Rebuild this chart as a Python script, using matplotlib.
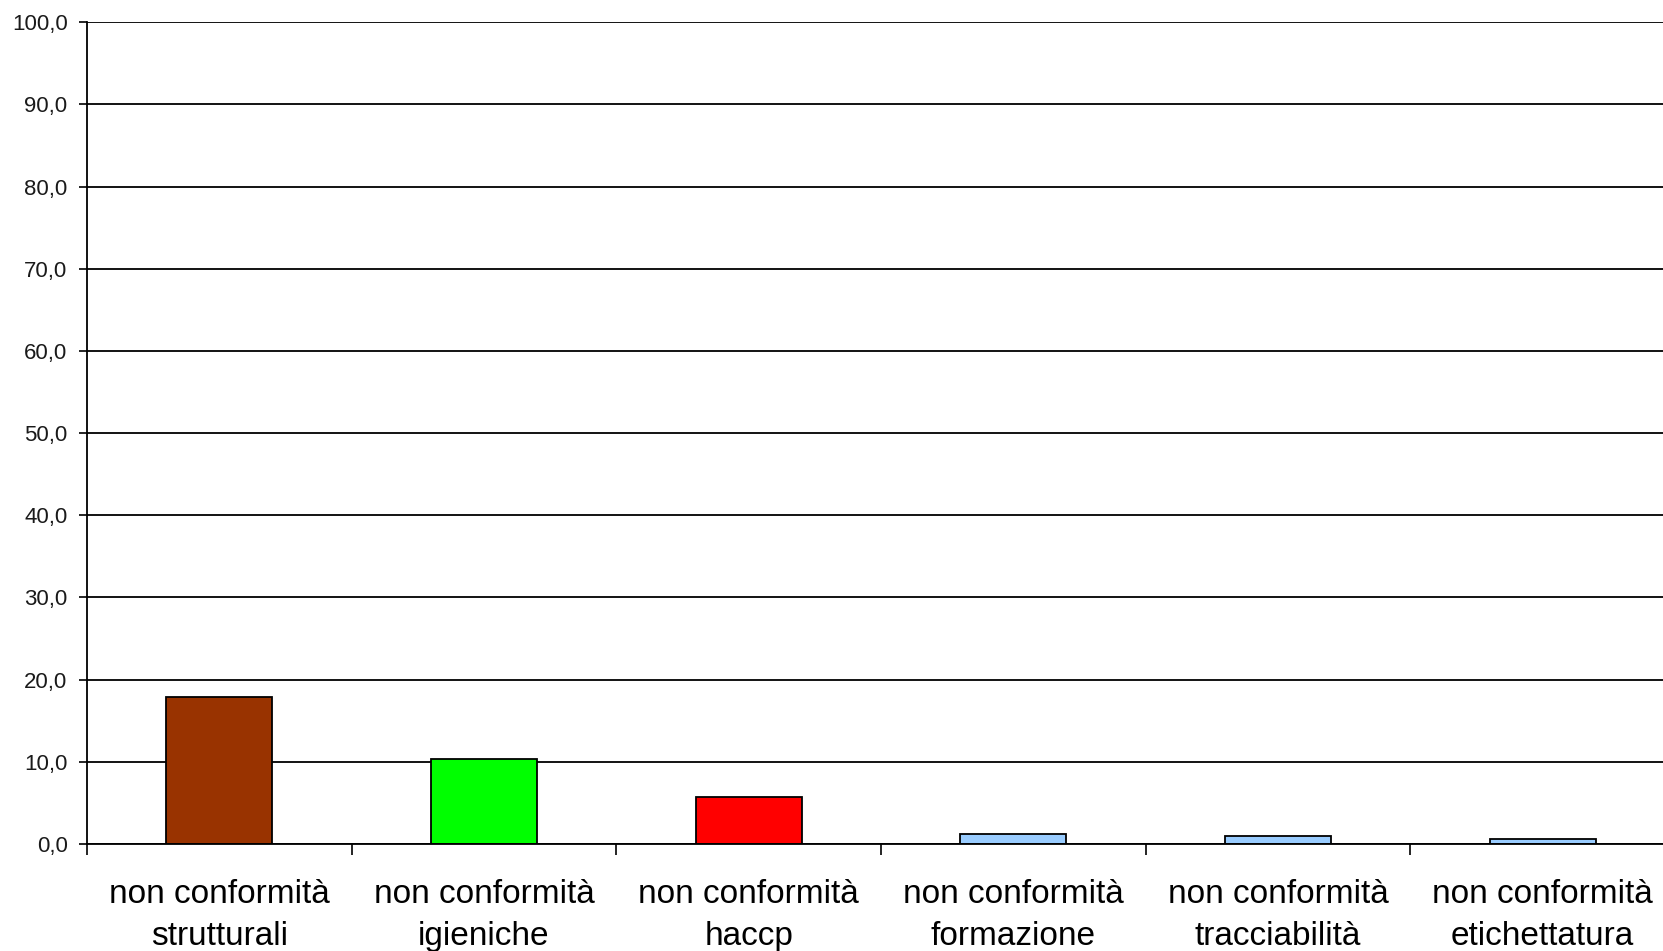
import matplotlib
matplotlib.use("Agg")
import matplotlib.pyplot as plt
import numpy as np

categories = [
    "non conformità\nstrutturali",
    "non conformità\nigieniche",
    "non conformità\nhaccp",
    "non conformità\nformazione",
    "non conformità\ntracciabilità",
    "non conformità\netichettatura",
]
values = [17.9, 10.3, 5.7, 1.2, 1.0, 0.6]
colors = ["#993300", "#00FF00", "#FF0000", "#99CCFF", "#99CCFF", "#99CCFF"]
y_ticks = [0, 10, 20, 30, 40, 50, 60, 70, 80, 90, 100]
y_tick_labels = ["0,0", "10,0", "20,0", "30,0", "40,0", "50,0",
                 "60,0", "70,0", "80,0", "90,0", "100,0"]

plt.rcParams["font.family"] = ["Liberation Sans", "DejaVu Sans"]

fig = plt.figure(figsize=(16.63, 9.51), dpi=100)
ax = fig.add_axes([0.0523, 0.1125, 0.9549, 0.8641])

x = np.arange(len(categories))
ax.bar(x, values, width=0.4, color=colors, edgecolor="black",
       linewidth=1.3, zorder=3)

ax.set_xlim(-0.5, len(categories) - 0.5)
ax.set_ylim(0, 100)

ax.set_yticks(y_ticks)
ax.set_yticklabels(y_tick_labels)
ax.yaxis.grid(True, color="black", linewidth=1.3, zorder=0)
ax.tick_params(axis="y", length=6, width=1.2, pad=8, labelsize=16,
               labelcolor="#1a1a1a")

ax.set_xticks(x)
ax.set_xticklabels(categories, fontsize=24, linespacing=1.45)
ax.set_xticks(np.arange(len(categories) + 1) - 0.5, minor=True)
ax.tick_params(axis="x", which="major", length=0, pad=25)
ax.tick_params(axis="x", which="minor", length=8, width=1.2)

for side in ["top", "right"]:
    ax.spines[side].set_visible(False)
ax.spines["left"].set_linewidth(1.3)
ax.spines["bottom"].set_linewidth(1.3)
ax.spines["bottom"].set_zorder(4)

fig.savefig("out.png", dpi=100, facecolor="white")
